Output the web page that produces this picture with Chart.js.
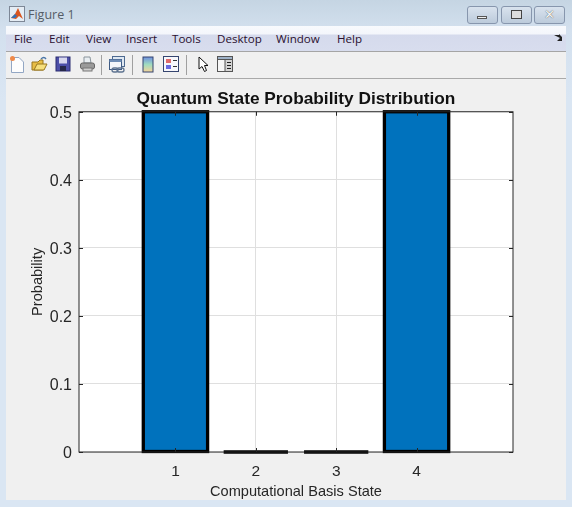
<!DOCTYPE html>
<html>
<head>
<meta charset="utf-8">
<title>Figure 1</title>
<script src="https://cdn.jsdelivr.net/npm/chart.js@4"></script>
<style>
html, body { margin: 0; padding: 0; background: #dae6f3; }
#win { position: relative; width: 572px; height: 507px; overflow: hidden; font-family: "Open Sans", "Noto Sans", sans-serif;
       background: linear-gradient(to bottom, #c5d5e3 0, #d3e0ee 30px, #dae6f3 100px); }
#caption { position: absolute; left: 28px; top: 6px; font-size: 12.5px; color: #555c66; }
#menu { position: absolute; left: 6px; top: 26px; width: 560px; height: 25px;
        background: linear-gradient(to bottom, #f8fafd 0, #f4f6fb 8px, #d5daec 9px, #d8ddee 100%); border-bottom: 1px solid #a5a5a5; }
#menu span { position: absolute; top: 5px; font-size: 11.6px; color: #2a1030; }
#tools { position: absolute; left: 6px; top: 52px; width: 560px; height: 26px; background: #f0f0f0; border-bottom: 1px solid #a9a9a9; }
#fig { position: absolute; left: 6px; top: 79px; width: 560px; height: 421px; background: #f0f0f0; }
.sep { position: absolute; top: 3px; width: 1px; height: 20px; background: #a0a0a0; }
.ico { position: absolute; }
.btn { position: absolute; top: 6px; height: 16px; border: 1px solid #8796ad; border-radius: 3px;
       background: linear-gradient(to bottom, #d9e3ee, #bccbdb); }
#chart { position: absolute; left: 0; top: 0; }
</style>
</head>
<body>
<div id="win">
  <svg class="ico" style="left:9px;top:6px" width="16" height="16" viewBox="0 0 16 16">
    <rect x="0.5" y="0.5" width="15" height="15" fill="#e4ecf4" stroke="#7d8796"/>
    <path d="M2 12 L6 8 L9 2 L14 13 L10 10 L7 13 Z" fill="#d9541e"/><path d="M2 12 L6 8 L8 10 L6 12 Z" fill="#2f6fb5"/>
  </svg>
  <div id="caption">Figure 1</div>
  <div class="btn" style="left:467px;width:29px"><div style="position:absolute;left:9px;top:9px;width:10px;height:3px;border:1px solid #555;background:#eee;box-sizing:border-box"></div></div>
  <div class="btn" style="left:501px;width:29px"><div style="position:absolute;left:9px;top:3px;width:11px;height:9px;border:1px solid #444;box-sizing:border-box;background:#ddd"></div></div>
  <div class="btn" style="left:534px;width:29px;text-align:center;font:bold 13px/15px 'DejaVu Sans';color:#f4f4f4;text-shadow:0 0 1px #333">✕</div>

  <div id="menu">
    <span style="left:8px">File</span><span style="left:43px">Edit</span><span style="left:80px">View</span>
    <span style="left:120px">Insert</span><span style="left:166px">Tools</span><span style="left:211px">Desktop</span>
    <span style="left:270px">Window</span><span style="left:331px">Help</span>
    <svg class="ico" style="left:548px;top:8px" width="9" height="8"><path d="M0 1 L5 1 L5 0 L8 3 L8 7 L3 7 L6 4 Z" fill="#222"/></svg>
  </div>

  <div id="tools">
    <svg class="ico" style="left:3px;top:3px" width="16" height="19"><path d="M2.5 2.5 H10 L14.5 7 V17.5 H2.5 Z" fill="#fdfdfd" stroke="#93a7c4"/><circle cx="3.5" cy="3.5" r="2.5" fill="#ef8a4a"/></svg>
    <svg class="ico" style="left:25px;top:3px" width="18" height="18"><path d="M1 7 H7 L9 5 H12 V15 H1 Z" fill="#e8bd45" stroke="#98771e"/><path d="M3 15 L6 9 H16 L13 15 Z" fill="#f6df7c" stroke="#98771e"/><path d="M10 4 Q13 1 15 4" fill="none" stroke="#4a76a8" stroke-width="1.4"/></svg>
    <svg class="ico" style="left:49px;top:4px" width="16" height="16"><rect x="1" y="1" width="14" height="14" fill="#4c4fa8" stroke="#2a2c70"/><rect x="4" y="1.5" width="8" height="6" fill="#d8d8ee"/><rect x="5" y="10" width="6" height="5" fill="#26284a"/></svg>
    <svg class="ico" style="left:73px;top:3px" width="17" height="18"><path d="M5 2 H11 L12 8 H5 Z" fill="#e9eef2" stroke="#8a949c"/><rect x="1.5" y="8" width="14" height="6" rx="2" fill="#9a9a9a" stroke="#666"/><rect x="4" y="13" width="9" height="3" fill="#cfcfcf" stroke="#777"/></svg>
    <div class="sep" style="left:95px"></div>
    <svg class="ico" style="left:102px;top:3px" width="18" height="19"><rect x="4.5" y="1.5" width="12" height="10" fill="#dfe8f2" stroke="#4e6a90"/><rect x="1.5" y="4.5" width="12" height="10" fill="#f3f6fa" stroke="#3f5b84"/><rect x="1.5" y="4.5" width="12" height="2.5" fill="#6d8cb4"/><rect x="4" y="13" width="6" height="4" rx="2" fill="none" stroke="#5d7390" stroke-width="1.3"/><rect x="9" y="13" width="7" height="4" rx="2" fill="none" stroke="#5d7390" stroke-width="1.3"/></svg>
    <div class="sep" style="left:126px"></div>
    <svg class="ico" style="left:136px;top:4px" width="12" height="17"><defs><linearGradient id="cb" x1="0" y1="0" x2="0" y2="1"><stop offset="0" stop-color="#6f8fe0"/><stop offset="0.5" stop-color="#9fdcc0"/><stop offset="1" stop-color="#f6d49a"/></linearGradient></defs><rect x="1" y="1" width="10" height="15" fill="url(#cb)" stroke="#35456f"/></svg>
    <svg class="ico" style="left:157px;top:4px" width="16" height="16"><rect x="0.5" y="0.5" width="15" height="15" fill="#f7f7fb" stroke="#35456f"/><rect x="3" y="3" width="5" height="4" fill="#e06a6a"/><rect x="3" y="9" width="5" height="4" fill="#6a6ae0"/><rect x="10" y="4" width="4" height="1" fill="#333"/><rect x="10" y="10" width="4" height="1" fill="#333"/></svg>
    <div class="sep" style="left:180px"></div>
    <svg class="ico" style="left:192px;top:4px" width="12" height="17"><path d="M1 1 V13 L4 10.5 L6.5 15.5 L8.5 14.5 L6.5 9.5 H10 Z" fill="#fff" stroke="#111"/></svg>
    <svg class="ico" style="left:211px;top:4px" width="17" height="16"><rect x="0.5" y="0.5" width="15" height="15" fill="#f6f6f6" stroke="#555"/><rect x="0.5" y="0.5" width="15" height="3" fill="#9fb2c8" stroke="#555"/><rect x="8" y="3.5" width="7.5" height="12" fill="#d5d5d5" stroke="#555"/><rect x="10" y="6" width="4" height="1" fill="#222"/><rect x="10" y="9" width="4" height="1" fill="#222"/><rect x="10" y="12" width="4" height="1" fill="#222"/></svg>
  </div>

  <div id="fig"></div>
  <canvas id="chart" width="572" height="507"></canvas>
</div>

<script>
//-------------------
// chart data
//-------------------
var states = [1, 2, 3, 4];
var probability = [0.5, 0, 0, 0.5];
var yTicks = [0, 0.1, 0.2, 0.3, 0.4, 0.5];

var chartTitle = "Quantum State Probability Distribution";
var xLabel = "Computational Basis State";
var yLabel = "Probability";

var textColor = "#262626";
var barColor = "#0072BD";
var gridColor = "#dfdfdf";
var fontName = '"Liberation Sans", Arial, sans-serif';

// white axes background, and the title centred over the axes like matlab
var axesBackground = {
    id: 'axesBackground',
    beforeDraw: function (chart) {
        var a = chart.chartArea;
        chart.ctx.fillStyle = "white";
        chart.ctx.fillRect(a.left, a.top, a.right - a.left, a.bottom - a.top);
        chart.titleBlock.left = a.left;
        chart.titleBlock.right = a.right;
    }
};

// matlab strokes bars centred on the edge (also the zero height ones),
// then puts the box and the inward ticks on top
var barOutline = {
    id: 'barOutline',
    afterDatasetsDraw: function (chart) {
        var ctx = chart.ctx;
        var a = chart.chartArea;
        var xs = chart.scales.x;
        var ys = chart.scales.y;
        ctx.save();
        ctx.strokeStyle = "black";
        ctx.lineWidth = 3.3;
        chart.getDatasetMeta(0).data.forEach(function (bar) {
            ctx.strokeRect(bar.x - bar.width / 2, bar.y, bar.width, bar.base - bar.y);
        });

        ctx.strokeStyle = textColor;
        ctx.lineWidth = 1;
        ctx.strokeRect(a.left, a.top, a.right - a.left, a.bottom - a.top);
        var tickLen = 4;
        ctx.beginPath();
        states.forEach(function (s) {
            var px = Math.round(xs.getPixelForValue(s)) + 0.5;
            ctx.moveTo(px, a.bottom); ctx.lineTo(px, a.bottom - tickLen);
            ctx.moveTo(px, a.top); ctx.lineTo(px, a.top + tickLen);
        });
        yTicks.forEach(function (t) {
            var py = Math.round(ys.getPixelForValue(t)) + 0.5;
            ctx.moveTo(a.left, py); ctx.lineTo(a.left + tickLen, py);
            ctx.moveTo(a.right, py); ctx.lineTo(a.right - tickLen, py);
        });
        ctx.stroke();
        ctx.restore();
    }
};

var ctx = document.getElementById('chart').getContext('2d');
var chart = new Chart(ctx, {
    type: 'bar',
    data: {
        datasets: [{
            data: states.map(function (s, i) { return { x: s, y: probability[i] }; }),
            backgroundColor: barColor,
            borderWidth: 0,
            barPercentage: 0.8,
            categoryPercentage: 1,
            clip: false
        }]
    },
    plugins: [axesBackground, barOutline],
    options: {
        responsive: false,
        animation: false,
        devicePixelRatio: 1,
        layout: { padding: { left: 27, right: 59, top: 89, bottom: 6 } },
        plugins: {
            legend: { display: false },
            tooltip: { enabled: false },
            title: {
                display: true,
                text: chartTitle,
                color: "#111111",
                font: { family: fontName, size: 17.3, weight: 'bold' },
                padding: { top: 0, bottom: 2 }
            }
        },
        scales: {
            x: {
                type: 'linear',
                offset: false,
                min: -0.2,
                max: 5.2,
                afterBuildTicks: function (axis) {
                    axis.ticks = states.map(function (s) { return { value: s }; });
                },
                afterFit: function (axis) { axis.height = 49; },
                grid: { color: gridColor, drawTicks: false, offset: false },
                border: { display: false },
                ticks: {
                    color: textColor,
                    padding: 10,
                    maxRotation: 0,
                    font: { family: fontName, size: 15.5 },
                    callback: function (v) { return String(v); }
                },
                title: {
                    display: true,
                    text: xLabel,
                    color: textColor,
                    padding: { top: 3, bottom: 0 },
                    font: { family: fontName, size: 14.6 }
                }
            },
            y: {
                min: 0,
                max: 0.5,
                afterBuildTicks: function (axis) {
                    axis.ticks = yTicks.map(function (t) { return { value: t }; });
                },
                afterFit: function (axis) { axis.width = 52; },
                grid: { color: gridColor, drawTicks: false },
                border: { display: false },
                ticks: {
                    color: textColor,
                    padding: 7,
                    labelOffset: 2,
                    font: { family: fontName, size: 16 },
                    callback: function (v) { return String(v); }
                },
                title: {
                    display: true,
                    text: yLabel,
                    color: textColor,
                    padding: { top: 2, bottom: 6 },
                    font: { family: fontName, size: 14.6 }
                }
            }
        }
    }
});
</script>
</body>
</html>
